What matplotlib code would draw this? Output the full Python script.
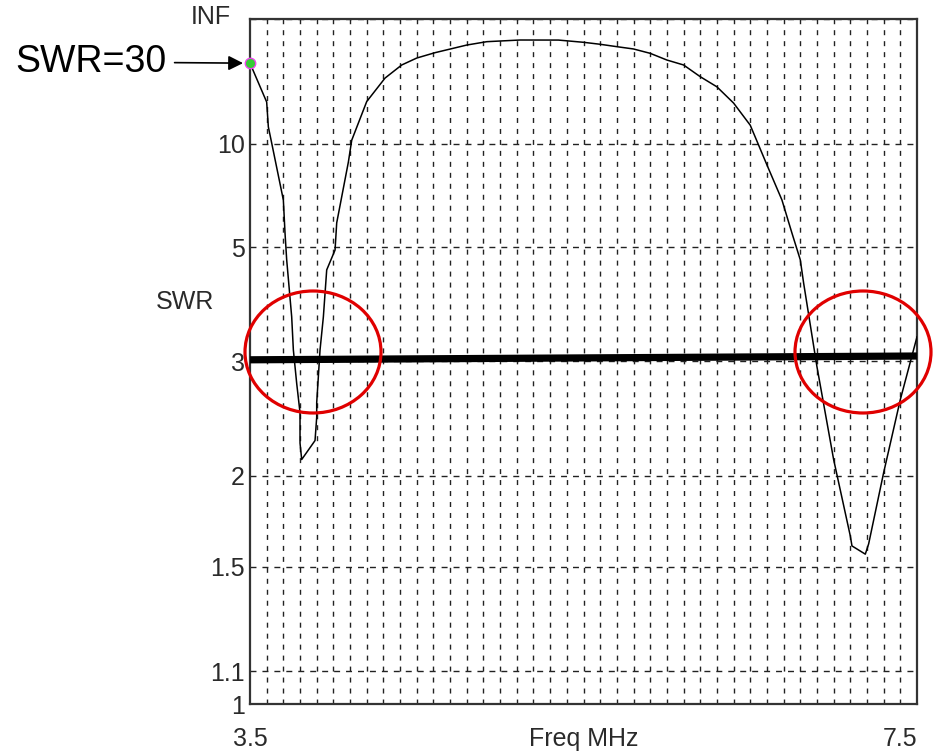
import numpy as np
import matplotlib
matplotlib.use("Agg")
import matplotlib.pyplot as plt
from matplotlib.patches import Ellipse

# ==============================
# DATA
# ==============================

freq = [3.50, 3.60, 3.61, 3.63, 3.70, 3.71, 3.72, 3.75, 3.76, 3.78, 3.80, 3.80, 3.81,
        3.89, 3.90, 3.90, 3.92, 3.94, 3.96, 4.01, 4.02, 4.09, 4.11, 4.20, 4.31, 4.41,
        4.50, 4.61, 4.80, 4.92, 5.12, 5.35, 5.50, 5.60, 5.70, 5.80, 5.90, 6.00, 6.10,
        6.20, 6.30, 6.40, 6.50, 6.60, 6.69, 6.75, 6.80, 6.82, 6.90, 7.00, 7.10, 7.11,
        7.19, 7.21, 7.30, 7.40, 7.50]
swr = [30.0, 15.5, 11.7, 10.05, 6.57, 5.40, 4.69, 3.60, 3.14, 2.76, 2.48, 2.23, 2.11,
       2.25, 2.44, 2.57, 3.14, 3.60, 4.46, 4.93, 5.72, 8.58, 10.3, 15.6, 22.2, 28.8,
       34.1, 39.7, 51.6, 59.4, 64.2, 64.0, 57.8, 53.2, 48.5, 44.7, 38.9, 32.4, 28.8,
       22.75, 19.2, 15.3, 11.9, 8.39, 6.57, 5.40, 4.69, 4.19, 2.94, 2.11, 1.65, 1.60,
       1.56, 1.61, 2.02, 2.60, 3.31]

# hand drawn SWR=3 limit line
limit_freq = [3.5, 7.5]
limit_swr = [3.02, 3.065]

swr_ticks = [1, 1.1, 1.5, 2, 3, 5, 10, 1e6]
swr_labels = ["1", "1.1", "1.5", "2", "3", "5", "10", ""]
freq_ticks = [3.5, 7.5]
freq_labels = ["3.5", "7.5"]
marker_freq = 3.5
marker_swr = 30

# ==============================
# SCALE: reflection coefficient
# ==============================

def to_gamma(s):
    s = np.asarray(s, dtype=float)
    return (s - 1) / (s + 1)


def from_gamma(g):
    g = np.asarray(g, dtype=float)
    return (1 + g) / np.maximum(1 - g, 1e-12)


plt.rcParams["font.family"] = ["Liberation Sans", "DejaVu Sans"]

fig = plt.figure(figsize=(9.35, 7.53), dpi=100)
ax = fig.add_axes([250 / 935, 49 / 753, 667 / 935, 685 / 753])

ax.set_yscale("function", functions=(to_gamma, from_gamma))
ax.set_xlim(3.5, 7.5)
ax.set_ylim(1, 1e6)

# grid
ax.set_xticks(np.arange(3.5, 7.51, 0.1), minor=True)
ax.set_xticks(freq_ticks)
ax.set_xticklabels(freq_labels)
ax.set_yticks(swr_ticks)
ax.set_yticklabels(swr_labels)
ax.yaxis.set_minor_locator(matplotlib.ticker.NullLocator())
ax.grid(axis="x", which="minor", color="#222222", lw=1.0, linestyle=(0, (3.6, 4.3)))
ax.grid(axis="y", which="major", color="#222222", lw=1.0, linestyle=(0, (4.3, 4.3)))
ax.set_axisbelow(True)

ax.tick_params(axis="both", which="both", length=0, labelsize=18, labelcolor="#2a2a2a")
ax.tick_params(axis="x", pad=16.5)
ax.tick_params(axis="y", pad=3.6)
xl = ax.get_xticklabels()
xl[-1].set_ha("right")

for sp in ax.spines.values():
    sp.set_color("#333333")
    sp.set_linewidth(1.6)

ax.set_xlabel("Freq MHz", fontsize=18, color="#2a2a2a")
ax.xaxis.set_label_coords(0.5, -0.034)
fig.text(185 / 935, 1 - 302 / 753, "SWR", fontsize=18, color="#2a2a2a",
         ha="center", va="center")
fig.text(211 / 935, 1 - 17 / 753, "INF", fontsize=18, color="#2a2a2a",
         ha="center", va="center")

# curve
ax.plot(freq, swr, color="black", lw=1.1, zorder=3)
ax.plot(limit_freq, limit_swr, color="black", lw=5.2, solid_capstyle="butt", zorder=4)
ax.plot([marker_freq], [marker_swr], "o", ms=7.5, mfc="#33cc33", mec="#ee44ee",
        mew=1.0, zorder=6, clip_on=False)

# annotation
ax.annotate("SWR=30", xy=(marker_freq, marker_swr), xycoords="data",
            xytext=(15, 753 - 62), textcoords="figure pixels",
            fontsize=27, color="black", ha="left", va="center",
            arrowprops=dict(arrowstyle="-|>", color="black", lw=1.2,
                            mutation_scale=22, shrinkA=4, shrinkB=5))

# red circles
for cx in [313, 863]:
    e = Ellipse(((cx - 250) / 667, (704 - 352) / 685), 136 / 667, 122 / 685,
                transform=ax.transAxes, fill=False, edgecolor="#e00000",
                lw=2.3, clip_on=False, zorder=7)
    ax.add_patch(e)

fig.savefig("out.png", dpi=100)
